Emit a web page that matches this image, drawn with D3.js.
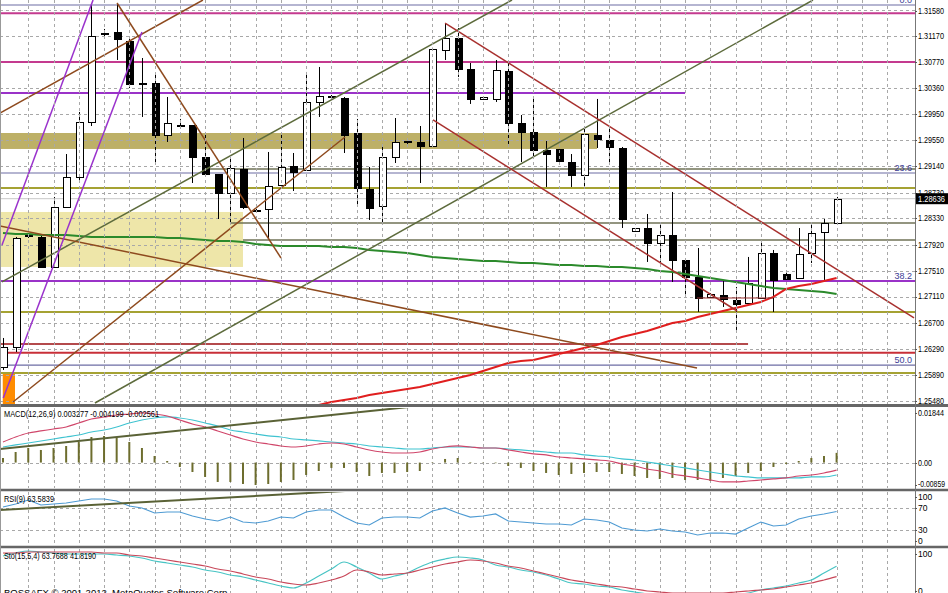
<!DOCTYPE html>
<html><head><meta charset="utf-8">
<script src="https://cdn.jsdelivr.net/npm/d3@7"></script>
<style>body{margin:0;background:#fff;overflow:hidden}svg{display:block;font-family:"Liberation Sans",Arial,sans-serif}</style>
</head><body><svg id="c" width="948" height="593"></svg>
<script>
// ---------- DATA ----------
const priceTicks=[1.31580,1.31170,1.30770,1.30360,1.29950,1.29550,1.29140,1.28730,1.28330,1.27920,1.27510,1.27110,1.26700,1.26290,1.25890,1.25480];
const opens=[1.26010,1.26323,1.28054,1.28039,1.27571,1.28507,1.28975,1.29833,1.31221,1.31237,
1.31096,1.30426,1.30441,1.29630,1.29770,1.29786,1.29287,1.29021,1.28725,1.29099,
1.28444,1.28475,1.28850,1.29146,1.29084,1.30145,1.30223,1.30207,1.29661,1.28787,
1.28522,1.29287,1.29521,1.29521,1.29458,1.30956,1.31143,1.30660,1.30192,1.30192,
1.30628,1.29817,1.29677,1.29396,1.29412,1.29209,1.29006,1.29630,1.29552,1.29427,
1.28132,1.28179,1.27945,1.28070,1.27680,1.27415,1.27103,1.27134,1.27056,1.27009,
1.27087,1.27789,1.27461,1.27399,1.27789,1.28117,1.28257];
const highs=[1.26463,1.28039,1.28101,1.28054,1.28663,1.29333,1.29989,1.31658,1.31284,1.31689,
1.31128,1.30831,1.30582,1.30223,1.29880,1.29786,1.29677,1.29021,1.29255,1.29583,
1.28475,1.29365,1.29661,1.29349,1.30613,1.30691,1.30254,1.30223,1.29880,1.29131,
1.29490,1.29895,1.29568,1.29770,1.30990,1.31362,1.31299,1.30753,1.30238,1.30800,
1.30769,1.29942,1.30223,1.29536,1.29412,1.29333,1.29755,1.30192,1.29739,1.29443,
1.28179,1.28397,1.28241,1.28741,1.27680,1.27867,1.27165,1.27352,1.27259,1.27727,
1.27961,1.27836,1.27477,1.28179,1.28257,1.28319,1.28663];
const lows=[1.25964,1.26244,1.28023,1.27555,1.27555,1.28491,1.28928,1.29770,1.31159,1.30800,
1.30363,1.29911,1.29177,1.29521,1.29739,1.28881,1.28975,1.28319,1.28257,1.28475,
1.28429,1.28007,1.28850,1.28756,1.29068,1.29911,1.30192,1.29349,1.28553,1.28304,
1.28241,1.29193,1.29490,1.28881,1.29458,1.30800,1.30535,1.30114,1.30176,1.30145,
1.29490,1.29209,1.29255,1.28819,1.29209,1.28819,1.28819,1.29427,1.29193,1.28179,
1.28117,1.27649,1.27649,1.27337,1.27134,1.26869,1.27087,1.26947,1.26588,1.27009,
1.27087,1.26869,1.27368,1.27399,1.27633,1.27368,1.28257];
const closes=[1.26323,1.28023,1.28070,1.27571,1.28507,1.28975,1.29833,1.31174,1.31215,1.31128,
1.30426,1.30441,1.29630,1.29817,1.29786,1.29287,1.29021,1.28725,1.29115,1.28507,
1.28460,1.28834,1.29131,1.29053,1.30145,1.30238,1.30238,1.29630,1.28803,1.28491,
1.29287,1.29521,1.29536,1.29458,1.30972,1.31143,1.30660,1.30192,1.30223,1.30644,
1.29817,1.29677,1.29396,1.29333,1.29224,1.29006,1.29646,1.29568,1.29443,1.28319,
1.28179,1.27945,1.28070,1.27680,1.27415,1.27087,1.27149,1.27071,1.26993,1.27321,
1.27789,1.27368,1.27383,1.27773,1.28101,1.28257,1.28636];
const greenMA=[1.28101,1.28085,1.28085,1.28070,1.28070,1.28070,1.28054,1.28039,1.28039,1.28039,
1.28039,1.28039,1.28039,1.28023,1.28023,1.28007,1.27992,1.27976,1.27976,1.27961,
1.27929,1.27914,1.27898,1.27898,1.27898,1.27898,1.27883,1.27883,1.27867,1.27836,
1.27820,1.27805,1.27789,1.27758,1.27727,1.27711,1.27695,1.27680,1.27664,1.27664,
1.27649,1.27633,1.27633,1.27617,1.27602,1.27602,1.27586,1.27586,1.27571,1.27571,
1.27555,1.27539,1.27508,1.27493,1.27461,1.27430,1.27399,1.27368,1.27337,1.27305,
1.27274,1.27243,1.27227,1.27212,1.27196,1.27181,1.27149];
const redMA=[null,null,null,null,null,null,null,null,null,null,null,null,null,null,null,null,null,null,null,null,null,null,null,null,null,
1.25418,1.25464,1.25496,1.25527,1.25574,1.25605,1.25636,1.25667,1.25698,1.25745,1.25792,1.25839,1.25886,1.25948,1.26010,
1.26073,1.26104,1.26120,1.26166,1.26213,1.26260,1.26307,1.26354,1.26416,1.26479,1.26525,1.26572,1.26635,1.26697,1.26728,
1.26791,1.26837,1.26884,1.26931,1.26978,1.27025,1.27103,1.27227,1.27274,1.27305,1.27352,1.27399];
const macdHist=[0.00155,0.00358,0.00493,0.00426,0.00493,0.00561,0.00696,0.00865,0.00899,0.00831,
0.00696,0.00493,0.00223,0.00054,-0.00149,-0.00318,-0.00486,-0.00655,-0.00655,-0.00723,
-0.00757,-0.00723,-0.00655,-0.00588,-0.00419,-0.00284,-0.00182,-0.00182,-0.00318,-0.00453,
-0.00351,-0.00351,-0.00318,-0.00284,-0.00014,0.00122,0.00155,0.00020,-0.00010,-0.00020,
-0.00115,-0.00182,-0.00284,-0.00351,-0.00419,-0.00385,-0.00351,-0.00318,-0.00318,-0.00385,
-0.00453,-0.00520,-0.00554,-0.00520,-0.00588,-0.00588,-0.00622,-0.00520,-0.00453,-0.00351,
-0.00284,-0.00149,-0.00047,0.00054,0.00155,0.00223,0.00328];
const macdRed=[0.00696,0.00865,0.01000,0.01068,0.01135,0.01203,0.01338,0.01473,0.01541,0.01608,
0.01642,0.01676,0.01642,0.01574,0.01439,0.01304,0.01203,0.01068,0.00932,0.00797,
0.00696,0.00628,0.00561,0.00527,0.00561,0.00628,0.00662,0.00628,0.00527,0.00426,
0.00358,0.00324,0.00324,0.00358,0.00459,0.00527,0.00561,0.00527,0.00493,0.00493,
0.00426,0.00358,0.00291,0.00257,0.00189,0.00155,0.00122,0.00088,0.00054,-0.00047,
-0.00115,-0.00216,-0.00284,-0.00385,-0.00453,-0.00520,-0.00588,-0.00655,-0.00655,-0.00622,
-0.00588,-0.00554,-0.00520,-0.00453,-0.00419,-0.00351,-0.00256];
const macdCyan=[0.00527,0.00595,0.00662,0.00730,0.00797,0.00865,0.00932,0.01034,0.01101,0.01203,
0.01338,0.01439,0.01507,0.01541,0.01507,0.01439,0.01338,0.01236,0.01101,0.01034,
0.00966,0.00899,0.00865,0.00797,0.00764,0.00730,0.00696,0.00662,0.00628,0.00561,
0.00527,0.00493,0.00459,0.00459,0.00493,0.00527,0.00527,0.00527,0.00493,0.00493,
0.00459,0.00426,0.00392,0.00358,0.00324,0.00324,0.00257,0.00223,0.00189,0.00122,
0.00088,0.00020,-0.00047,-0.00115,-0.00182,-0.00250,-0.00318,-0.00385,-0.00453,-0.00486,
-0.00520,-0.00520,-0.00520,-0.00520,-0.00486,-0.00486,-0.00420];
const rsi=[71.8,77.3,84.5,75.5,77.3,79.1,82.7,86.4,86.4,82.7,
73.6,70.0,60.9,62.7,62.7,55.5,50.0,46.4,53.6,44.5,
42.7,46.4,53.6,51.8,62.7,66.4,66.4,53.6,42.7,39.1,
51.8,53.6,53.6,51.8,64.5,70.0,60.9,53.6,55.5,59.1,
46.4,44.5,42.7,40.9,40.9,39.1,50.0,48.2,44.5,33.6,
30.0,28.2,31.8,28.2,26.4,20.9,24.5,24.5,22.7,33.6,
44.5,37.3,39.1,50.0,55.5,59.1,63.58];
const stoMain=[85.3,91.6,95.8,93.7,91.6,89.5,89.5,89.5,89.5,87.4,
85.3,81.1,74.7,70.5,66.3,62.1,55.8,51.6,45.3,41.1,
34.7,28.4,22.1,17.9,28.4,43.2,57.9,72.6,62.1,49.5,
36.8,43.2,49.5,62.1,72.6,78.9,83.2,81.1,76.8,66.3,
62.1,55.8,51.6,45.3,36.8,28.4,26.3,22.1,20.0,13.7,
9.5,5.3,1.1,0.5,0.3,0.6,0.8,1.1,3.2,7.4,
13.7,17.9,22.1,28.4,34.7,49.5,63.77];
const stoSignal=[91.6,91.6,93.7,93.7,93.7,93.7,93.7,93.7,91.6,91.6,
87.4,85.3,81.1,76.8,72.6,68.4,64.2,57.9,53.7,47.4,
41.1,36.8,30.5,26.3,24.2,28.4,34.7,43.2,55.8,51.6,
45.3,47.4,49.5,55.8,62.1,68.4,72.6,76.8,74.7,70.5,
64.2,60.0,53.7,47.4,41.1,34.7,30.5,26.3,22.1,20.0,
15.8,11.6,9.5,7.4,7.4,7.4,7.4,7.4,9.5,11.6,
13.7,15.8,20.0,24.2,28.4,34.7,41.82];
// trend lines: [index1, value1, index2, value2]
const purpleTrend=[[-0.08,1.27914,7.13,1.31736],[0.02,1.25527,11.0,1.31237]];
const brownTrend=[[-0.24,1.29973,15.83,1.31736],[9.03,1.31689,22.01,1.27711],[0.79,1.25464,27.08,1.29599],[-0.24,1.28210,54.95,1.25995]];
const oliveTrend=[[-0.08,1.27337,40.3,1.31736],[7.28,1.25449,64.13,1.31736]];
const maroonTrend=[[35.0,1.31377,72.13,1.26775],[34.05,1.29864,58.12,1.26884]];
const darkRedSeg=[[54.95,1.27087,60.97,1.27087]];
const macdTrend=[[-0.24,0.00459,32.15,0.01878]];
const rsiTrend=[[-0.24,66.4,27.08,100.9]];
// horizontal levels
const fibLevels=[1.31658,1.29037,1.27352,1.26041];
const fibLabels=["0.0","23.6","38.2","50.0"];
const magentaLevels=[1.31528,1.30770];
const purpleLevels=[[1.30285,-0.3,54.0],[1.27352,-0.3,72.3]];
const yellowOliveLevels=[1.28803,1.26869,1.25917];
const grayOliveLevels=[[1.29099,16.15,72.3],[1.28257,17.97,72.3],[1.27992,19.0,72.3]];
const redLevels=[[1.26370,-0.3,58.99],[1.26233,-0.3,72.3]];
// zones: [index1, index2, priceTop, priceBottom]
const lightZone=[-0.3,19.0,1.28429,1.27571];
const oliveZone=[-0.3,47.03,1.29661,1.29412];
const orangeZone=[-0.02,0.95,1.25917,1.25400];
const macdLabels=["0.01844","0.00","-0.00859"];
const rsiLabels=[100,70,30,0];
const stoLabels=[100,0];

// ---------- SCALES ----------
const svg=d3.select("#c");
const R=915;
const x=d3.scaleLinear().domain([0,66]).range([3,836.6]);
const yP=d3.scaleLinear().domain([1.25433,1.31736]).range([404,0]);
const yM=d3.scaleLinear().domain([-0.00859,0.01844]).range([488,408]);
const yR=d3.scaleLinear().domain([0,100]).range([546.5,491.5]);
const yS=d3.scaleLinear().domain([0,100]).range([596.5,549]);
const panels=[{id:"pm",y0:0,y1:404},{id:"pd",y0:408,y1:488},{id:"pr",y0:492,y1:546},{id:"ps",y0:549,y1:597}];
const defs=svg.append("defs");
panels.forEach(p=>defs.append("clipPath").attr("id",p.id).append("rect").attr("x",0).attr("y",p.y0).attr("width",R).attr("height",p.y1-p.y0));
const cr=v=>Math.round(v)+0.5;

// ---------- MAIN PANEL ----------
const gm=svg.append("g").attr("clip-path","url(#pm)");
function zone(z,fill){gm.append("rect").attr("x",x(z[0])).attr("y",yP(z[2])).attr("width",x(z[1])-x(z[0])).attr("height",yP(z[3])-yP(z[2])).attr("fill",fill);}
zone(lightZone,"#eee6a9");
zone(oliveZone,"#bdb067");
zone(orangeZone,"#ff8c00");
// grid
const vgrid=d3.range(2,71,2);
panels.forEach(p=>{
  svg.append("g").selectAll("line").data(vgrid).join("line")
   .attr("x1",d=>cr(x(d))).attr("x2",d=>cr(x(d))).attr("y1",p.y0).attr("y2",p.y1)
   .attr("stroke","#a8a8a8").attr("stroke-dasharray","3,3");
});
gm.selectAll("line.hg").data(priceTicks).join("line").attr("class","hg")
  .attr("x1",0).attr("x2",R).attr("y1",d=>cr(yP(d))).attr("y2",d=>cr(yP(d)))
  .attr("stroke","#a8a8a8").attr("stroke-dasharray","3,3");
// horizontal levels
function hline(g,p,i1,i2,color,w){g.append("line").attr("x1",i1==null?0:x(i1)).attr("x2",i2==null?R:x(i2)).attr("y1",yP(p)).attr("y2",yP(p)).attr("stroke",color).attr("stroke-width",w);}
hline(gm,closes[closes.length-1],null,null,"#c8c8c8",1);
fibLevels.forEach(p=>hline(gm,p,null,null,"#6c6ca4",1.2));
magentaLevels.forEach(p=>hline(gm,p,null,null,"#c43a8f",2));
purpleLevels.forEach(d=>hline(gm,d[0],d[1],d[2],"#9a32c8",2));
yellowOliveLevels.forEach(p=>hline(gm,p,null,null,"#a5a233",2));
grayOliveLevels.forEach(d=>hline(gm,d[0],d[1],d[2],"#6f7256",1.5));
hline(gm,redLevels[0][0],redLevels[0][1],redLevels[0][2],"#b44a4c",2);
hline(gm,redLevels[1][0],redLevels[1][1],redLevels[1][2],"#c82f38",2);
// fib labels
gm.selectAll("text.fib").data(fibLevels).join("text").attr("class","fib")
 .attr("x",912).attr("y",d=>yP(d)-2).attr("text-anchor","end").attr("font-size",9).attr("fill","#3c3c96").text((d,i)=>fibLabels[i]);
// candles
const idx=d3.range(opens.length);
const cg=gm.append("g");
cg.selectAll("line.wick").data(idx).join("line").attr("class","wick")
  .attr("x1",i=>cr(x(i))).attr("x2",i=>cr(x(i))).attr("y1",i=>yP(highs[i])).attr("y2",i=>yP(lows[i]))
  .attr("stroke","#000").attr("stroke-width",1);
cg.selectAll("rect.body").data(idx).join("rect").attr("class","body")
  .attr("x",i=>Math.round(x(i))-3+0.5).attr("width",7)
  .attr("y",i=>Math.round(yP(Math.max(opens[i],closes[i])))+0.5)
  .attr("height",i=>Math.max(1,Math.round(Math.abs(yP(opens[i])-yP(closes[i])))))
  .attr("fill",i=>closes[i]>=opens[i]?"#fff":"#000").attr("stroke","#000").attr("stroke-width",1);
// moving averages
const lineP=d3.line().defined(d=>d!=null).x((d,i)=>x(i)).y(d=>yP(d));
gm.append("path").attr("d",lineP(greenMA)).attr("fill","none").attr("stroke","#2b8a2b").attr("stroke-width",2);
gm.append("path").attr("d",lineP(redMA)).attr("fill","none").attr("stroke","#e01e1e").attr("stroke-width",2);
// trend lines
function trend(g,arr,ys,color,w){g.selectAll(null).data(arr).join("line").attr("x1",d=>x(d[0])).attr("y1",d=>ys(d[1])).attr("x2",d=>x(d[2])).attr("y2",d=>ys(d[3])).attr("stroke",color).attr("stroke-width",w);}
trend(gm,oliveTrend,yP,"#5d6b3c",1.5);
trend(gm,brownTrend,yP,"#8e4a1e",1.5);
trend(gm,purpleTrend,yP,"#9a32cc",1.5);
trend(gm,maroonTrend,yP,"#a8302e",1.5);
trend(gm,darkRedSeg,yP,"#9a3030",1);

// ---------- MACD ----------
const gd=svg.append("g").attr("clip-path","url(#pd)");
gd.append("line").attr("x1",0).attr("x2",R).attr("y1",cr(yM(0))).attr("y2",cr(yM(0))).attr("stroke","#a8a8a8").attr("stroke-dasharray","3,3");
gd.selectAll("line.h").data(idx).join("line").attr("class","h")
  .attr("x1",i=>x(i)).attr("x2",i=>x(i)).attr("y1",yM(0)).attr("y2",i=>yM(macdHist[i]))
  .attr("stroke","#6d6d2e").attr("stroke-width",2);
const lineM=d3.line().x((d,i)=>x(i)).y(d=>yM(d)).curve(d3.curveMonotoneX);
gd.append("path").attr("d",lineM(macdCyan)).attr("fill","none").attr("stroke","#3fc3d0").attr("stroke-width",1.2);
gd.append("path").attr("d",lineM(macdRed)).attr("fill","none").attr("stroke","#d0466a").attr("stroke-width",1.2);
trend(gd,macdTrend,yM,"#5a6236",2);

// ---------- RSI ----------
const gr=svg.append("g").attr("clip-path","url(#pr)");
[70,30].forEach(v=>gr.append("line").attr("x1",0).attr("x2",R).attr("y1",cr(yR(v))).attr("y2",cr(yR(v))).attr("stroke","#a8a8a8").attr("stroke-dasharray","3,3"));
gr.append("path").attr("d",d3.line().x((d,i)=>x(i)).y(d=>yR(d))(rsi)).attr("fill","none").attr("stroke","#4f9bd3").attr("stroke-width",1.2);
trend(gr,rsiTrend,yR,"#5a6236",2);

// ---------- STOCH ----------
const gs=svg.append("g").attr("clip-path","url(#ps)");
const lineS=d3.line().x((d,i)=>x(i)).y(d=>yS(d)).curve(d3.curveMonotoneX);
gs.append("path").attr("d",lineS(stoMain)).attr("fill","none").attr("stroke","#48c4c4").attr("stroke-width",1.2);
gs.append("path").attr("d",lineS(stoSignal)).attr("fill","none").attr("stroke","#c8485a").attr("stroke-width",1.2);

// ---------- FRAME ----------
[[405.5,3],[490,2.5],[547,2.5]].forEach(s=>svg.append("line").attr("x1",0).attr("x2",948).attr("y1",s[0]).attr("y2",s[0]).attr("stroke","#666").attr("stroke-width",s[1]));
svg.append("line").attr("x1",R+0.5).attr("x2",R+0.5).attr("y1",0).attr("y2",593).attr("stroke","#777");
svg.append("line").attr("x1",0.5).attr("x2",0.5).attr("y1",0).attr("y2",593).attr("stroke","#999");

// right axis labels
const ax=svg.append("g").attr("font-size",8.5).attr("fill","#000");
function lab(y,t,len){ax.append("line").attr("x1",R).attr("x2",R+2).attr("y1",cr(y)).attr("y2",cr(y)).attr("stroke","#555");
  const tx=ax.append("text").attr("x",918).attr("y",y).attr("dy","0.35em").text(t); if(len)tx.attr("textLength",len).attr("lengthAdjust","spacingAndGlyphs");}
priceTicks.forEach(v=>lab(yP(v)+(v===priceTicks[0]?1.5:0),v.toFixed(5),26));
lab(yM(0.01844)+5,macdLabels[0],26);
lab(yM(0),macdLabels[1],14);
lab(yM(-0.00859)-3.5,macdLabels[2],27);
rsiLabels.forEach(v=>lab(yR(v)+(v===100?5.5:v===0?-5.5:0),String(v)));
stoLabels.forEach(v=>lab(yS(v)+(v===100?5:-5.5),String(v)));
// current price box
const lastC=closes[closes.length-1];
svg.append("rect").attr("x",916).attr("y",yP(lastC)-5.5).attr("width",32).attr("height",11).attr("fill","#000");
svg.append("text").attr("x",918).attr("y",yP(lastC)).attr("dy","0.35em").attr("font-size",8.5).attr("fill","#fff").attr("textLength",27).attr("lengthAdjust","spacingAndGlyphs").text(lastC.toFixed(5));

// panel titles
const tt=svg.append("g").attr("font-size",9.5).attr("fill","#000");
tt.append("text").attr("x",4).attr("y",417).attr("textLength",155).attr("lengthAdjust","spacingAndGlyphs").text("MACD(12,26,9) 0.003277 -0.004199 -0.002561");
tt.append("text").attr("x",4).attr("y",502).attr("textLength",50).attr("lengthAdjust","spacingAndGlyphs").text("RSI(9) 63.5839");
tt.append("text").attr("x",4).attr("y",559).attr("textLength",92).attr("lengthAdjust","spacingAndGlyphs").text("Sto(15,5,4) 63.7688 41.8190");
tt.append("text").attr("x",4).attr("y",596).attr("textLength",226).attr("lengthAdjust","spacingAndGlyphs").text("BOSSAFX  © 2001-2012, MetaQuotes Software Corp.");
</script></body></html>
